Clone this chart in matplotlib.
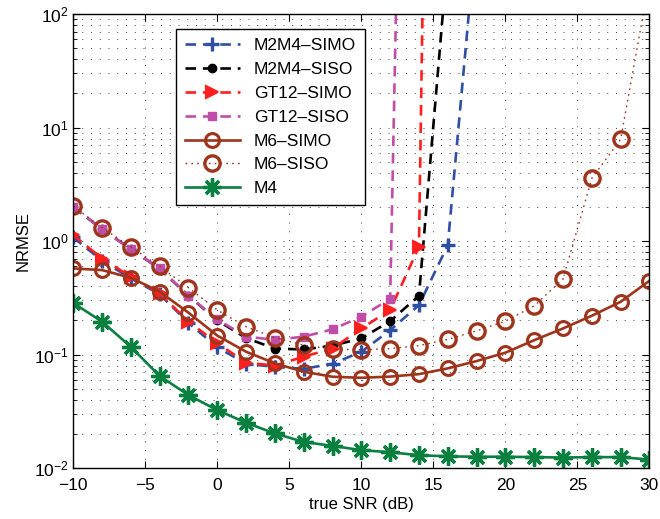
import numpy as np
import matplotlib
matplotlib.use("Agg")
import matplotlib.pyplot as plt

plt.rcParams['font.family'] = ['Liberation Sans', 'DejaVu Sans']

# === data ===
snr = np.arange(-10, 32, 2)

m2m4_simo = [1.08, 0.67, 0.47, 0.34, 0.19, 0.116, 0.083, 0.078, 0.075, 0.083, 0.106,
             0.164, 0.273, 0.92, 570]
m2m4_siso = [2.0, 1.27, 0.85, 0.57, 0.33, 0.20, 0.14, 0.113, 0.111, 0.12, 0.139,
             0.197, 0.33, 330]
gt12_simo = [1.13, 0.70, 0.485, 0.346, 0.195, 0.126, 0.085, 0.080, 0.096, 0.113, 0.17,
             0.247, 0.89, 1e17]
gt12_siso = [2.0, 1.27, 0.845, 0.574, 0.33, 0.204, 0.144, 0.135, 0.144, 0.167, 0.216,
             0.31, 1e12]
m6_simo = [0.574, 0.555, 0.475, 0.358, 0.234, 0.147, 0.106, 0.0837, 0.0707, 0.0638, 0.0625,
           0.064, 0.0673, 0.0756, 0.0877, 0.104, 0.134, 0.17, 0.22, 0.292, 0.447]
m6_siso = [2.03, 1.31, 0.89, 0.60, 0.388, 0.247, 0.176, 0.141, 0.121, 0.112, 0.11,
           0.113, 0.12, 0.136, 0.162, 0.197, 0.269, 0.463, 3.57, 7.87, 200]
m4 = [0.285, 0.195, 0.117, 0.0647, 0.044, 0.0324, 0.0251, 0.0202, 0.017, 0.0157, 0.0144,
      0.0138, 0.013, 0.0127, 0.0126, 0.0126, 0.0125, 0.0124, 0.0125, 0.0125, 0.0119]

labels = ["M2M4–SIMO", "M2M4–SISO", "GT12–SIMO", "GT12–SISO", "M6–SIMO", "M6–SISO", "M4"]

blue = "#2f4fa3"
red = "#ff1f1f"
magenta = "#c04ea8"
brown = "#9e341c"
green = "#0a8040"

fig = plt.figure(figsize=(6.6, 5.19), dpi=100)
ax = fig.add_axes([0.111, 0.098, 0.873, 0.875])

dash = (0, (4, 2.6))
lw = 1.9

ax.plot(snr[:len(m2m4_simo)], m2m4_simo, color=blue, ls=dash, lw=lw, marker="+",
        ms=10, mew=2.4, label=labels[0])
ax.plot(snr[:len(m2m4_siso)], m2m4_siso, color="black", ls=dash, lw=lw, marker=".",
        ms=12, label=labels[1])
ax.plot(snr[:len(gt12_simo)], gt12_simo, color=red, ls=dash, lw=lw, marker=">",
        ms=9, mew=1.5, label=labels[2])
ax.plot(snr[:len(gt12_siso)], gt12_siso, color=magenta, ls=dash, lw=lw, marker="s",
        ms=6, label=labels[3])
ax.plot(snr, m6_simo, color=brown, ls="-", lw=lw, marker="o", ms=10, mew=2.2,
        mfc="none", label=labels[4])
ax.plot(snr, m6_siso, color=brown, ls=(0, (1.2, 3)), lw=1.0, marker="o", ms=11, mew=2.4,
        mfc="none", label=labels[5])
ax.plot(snr, m4, color=green, ls="-", lw=lw, marker=(8, 2, 0), ms=13, mew=2.4,
        label=labels[6])

ax.set_yscale("log")
ax.set_xlim(-10, 30)
ax.set_ylim(1e-2, 1e2)
ax.set_xticks(np.arange(-10, 31, 5))
ax.set_xticklabels(["−10", "−5", "0", "5", "10", "15", "20", "25", "30"])

grid_ls = (0, (1, 8))
ax.grid(True, which="major", color="black", ls=grid_ls, lw=0.7, alpha=0.75)
ax.grid(True, which="minor", axis="y", color="black", ls=grid_ls, lw=0.7, alpha=0.75)
ax.tick_params(which="both", direction="in", top=True, right=True, labelsize=12.5)
ax.tick_params(axis="x", pad=7)
ax.tick_params(which="major", length=5)
ax.tick_params(which="minor", length=3)
for s in ax.spines.values():
    s.set_linewidth(1.0)

ax.set_xlabel("true SNR (dB)", fontsize=12, labelpad=3)
ax.set_ylabel("NRMSE", fontsize=12, labelpad=2)

leg = ax.legend(loc="upper left", bbox_to_anchor=(0.178, 0.966), borderaxespad=0,
                fontsize=12.5, handlelength=3.2, fancybox=False, framealpha=1,
                edgecolor="black", labelspacing=0.5, borderpad=0.5)
leg.get_frame().set_linewidth(1.0)

fig.savefig("out.png", dpi=100)
